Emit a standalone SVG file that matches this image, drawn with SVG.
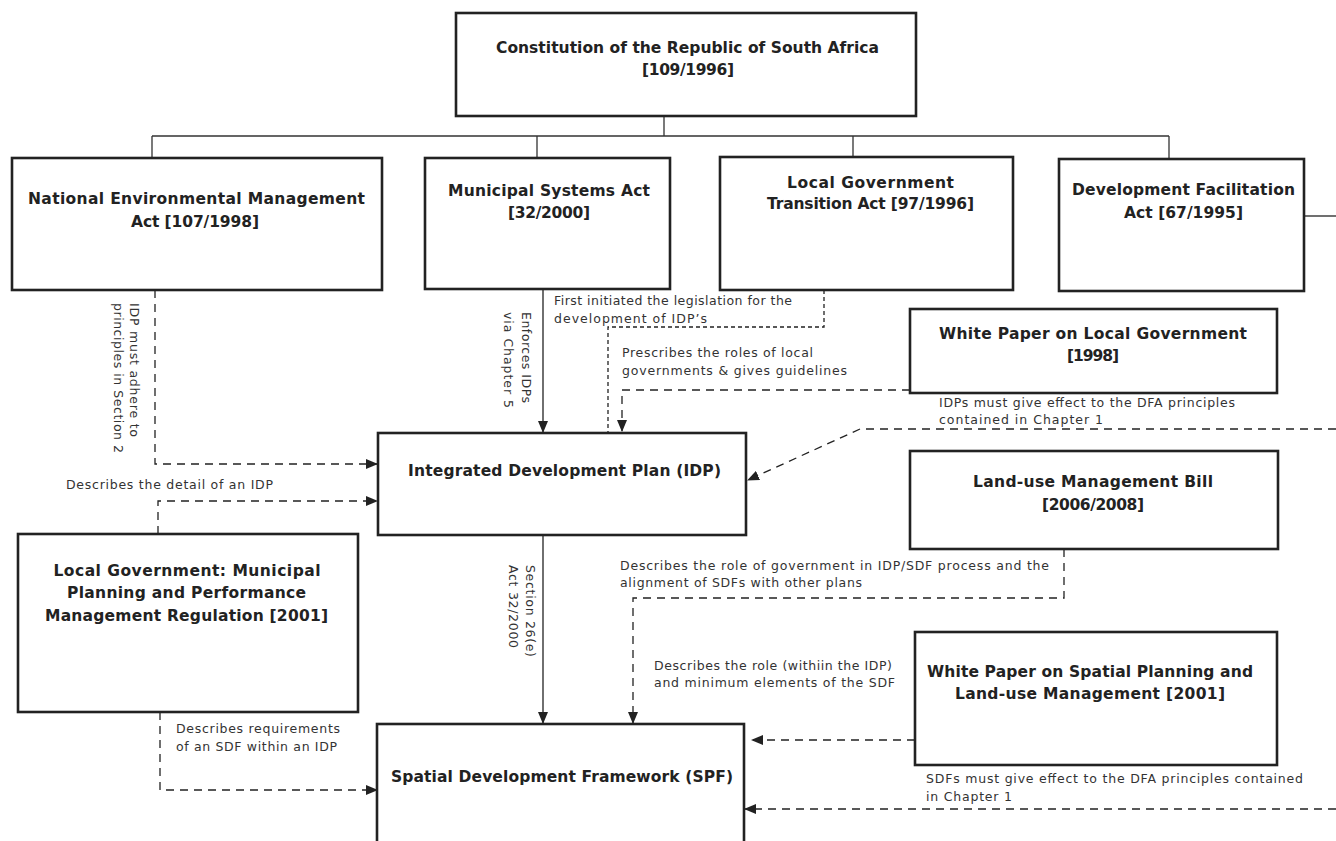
<svg xmlns="http://www.w3.org/2000/svg" width="1336" height="841" viewBox="0 0 1336 841">
<style>
.box{fill:#fff;stroke:#222;stroke-width:2.6}
.nt{font-family:"DejaVu Sans","Liberation Sans",sans-serif;font-weight:bold;font-size:15.5px;fill:#222;text-anchor:middle}
.lb{font-family:"DejaVu Sans","Liberation Sans",sans-serif;font-size:12.5px;fill:#333}
.tree{fill:none;stroke:#333;stroke-width:1.3}
.solid{fill:none;stroke:#222;stroke-width:1.3}
.dash{fill:none;stroke:#222;stroke-width:1.3;stroke-dasharray:8 6}
.dot{fill:none;stroke:#222;stroke-width:1.3;stroke-dasharray:4 3}
</style>
<defs>
<marker id="ah" markerUnits="userSpaceOnUse" markerWidth="12" markerHeight="10" refX="11" refY="5" orient="auto">
<path d="M0,0 L12,5 L0,10 z" fill="#222"/>
</marker>
</defs>
<g id="connectors">
<path class="tree" d="M664,116 V136 M152,136 H1169 M152,136 V157 M537,136 V157 M853,136 V157 M1169,136 V158"/>
<path class="solid" d="M1304,216 H1336"/>
<path class="dash" d="M155,290 V464 H377" marker-end="url(#ah)"/>
<path class="dash" d="M158,534 V501 H377" marker-end="url(#ah)"/>
<path class="dash" d="M160,712 V790 H377" marker-end="url(#ah)"/>
<path class="solid" d="M543,289 V432" marker-end="url(#ah)"/>
<path class="dot" d="M824,290 V327 H608 V432"/>
<path class="dash" d="M910,390 H622 V431" marker-end="url(#ah)"/>
<path class="dash" d="M1336,429 H860 L748,480" marker-end="url(#ah)"/>
<path class="solid" d="M543,535 V723" marker-end="url(#ah)"/>
<path class="dash" d="M1064,549 V598 H633 V723" marker-end="url(#ah)"/>
<path class="dash" d="M915,740 H752" marker-end="url(#ah)"/>
<path class="dash" d="M1336,809 H745" marker-end="url(#ah)"/>
</g>
<g id="labels">
<text class="lb" x="554" y="305" textLength="238">First initiated the legislation for the</text>
<text class="lb" x="554" y="323" textLength="153">development of IDP’s</text>
<text class="lb" x="622" y="357" textLength="191">Prescribes the roles of local</text>
<text class="lb" x="622" y="375" textLength="225">governments &amp; gives guidelines</text>
<text class="lb" x="939" y="407" textLength="296">IDPs must give effect to the DFA principles</text>
<text class="lb" x="939" y="424" textLength="164">contained in Chapter 1</text>
<text class="lb" x="66" y="489" textLength="207">Describes the detail of an IDP</text>
<text class="lb" x="620" y="570" textLength="429">Describes the role of government in IDP/SDF process and the</text>
<text class="lb" x="620" y="587" textLength="242">alignment of SDFs with other plans</text>
<text class="lb" x="654" y="670" textLength="238">Describes the role (withiin the IDP)</text>
<text class="lb" x="654" y="687" textLength="241">and minimum elements of the SDF</text>
<text class="lb" x="176" y="733" textLength="164">Describes requirements</text>
<text class="lb" x="176" y="751" textLength="161">of an SDF within an IDP</text>
<text class="lb" x="926" y="783" textLength="377">SDFs must give effect to the DFA principles contained</text>
<text class="lb" x="926" y="801" textLength="86">in Chapter 1</text>
<g transform="translate(129.5,303) rotate(90)">
<text class="lb" x="0" y="0" textLength="134">IDP must adhere to</text>
<text class="lb" x="0" y="16" textLength="150">principles in Section 2</text>
</g>
<g transform="translate(521.5,312) rotate(90)">
<text class="lb" x="0" y="0" textLength="91">Enforces IDPs</text>
<text class="lb" x="0" y="18" textLength="96">via Chapter 5</text>
</g>
<g transform="translate(525.5,565) rotate(90)">
<text class="lb" x="0" y="0" textLength="92">Section 26(e)</text>
<text class="lb" x="0" y="17" textLength="83">Act 32/2000</text>
</g>
</g>
<g id="constitution">
<rect class="box" x="456" y="13" width="460" height="103"/>
<text class="nt" x="687.5" y="53" textLength="383">Constitution of the Republic of South Africa</text>
<text class="nt" x="688" y="75" textLength="92">[109/1996]</text>
</g>
<g id="nema">
<rect class="box" x="12" y="158" width="370" height="132"/>
<text class="nt" x="196.5" y="204" textLength="337">National Environmental Management</text>
<text class="nt" x="195" y="227" textLength="128">Act [107/1998]</text>
</g>
<g id="msa">
<rect class="box" x="425" y="158" width="245" height="131"/>
<text class="nt" x="549" y="196" textLength="202">Municipal Systems Act</text>
<text class="nt" x="549" y="218" textLength="82">[32/2000]</text>
</g>
<g id="lgta">
<rect class="box" x="720" y="157" width="293" height="133"/>
<text class="nt" x="870.5" y="188" textLength="167">Local Government</text>
<text class="nt" x="870.5" y="209" textLength="207">Transition Act [97/1996]</text>
</g>
<g id="dfa">
<rect class="box" x="1059" y="159" width="245" height="132"/>
<text class="nt" x="1183.5" y="195" textLength="223">Development Facilitation</text>
<text class="nt" x="1183.5" y="218" textLength="119">Act [67/1995]</text>
</g>
<g id="wplg">
<rect class="box" x="910" y="309" width="367" height="84"/>
<text class="nt" x="1093" y="339" textLength="308">White Paper on Local Government</text>
<text class="nt" x="1093" y="361" textLength="52">[1998]</text>
</g>
<g id="idp">
<rect class="box" x="378" y="433" width="368" height="102"/>
<text class="nt" x="564.5" y="476" textLength="313">Integrated Development Plan (IDP)</text>
</g>
<g id="lumb">
<rect class="box" x="910" y="451" width="368" height="98"/>
<text class="nt" x="1093" y="487" textLength="240">Land-use Management Bill</text>
<text class="nt" x="1093" y="510" textLength="102">[2006/2008]</text>
</g>
<g id="lgmppm">
<rect class="box" x="18" y="534" width="340" height="178"/>
<text class="nt" x="187" y="576" textLength="267">Local Government: Municipal</text>
<text class="nt" x="186.5" y="598" textLength="239">Planning and Performance</text>
<text class="nt" x="186.5" y="621" textLength="283">Management Regulation [2001]</text>
</g>
<g id="wpsp">
<rect class="box" x="915" y="632" width="362" height="133"/>
<text class="nt" x="1090" y="677" textLength="326">White Paper on Spatial Planning and</text>
<text class="nt" x="1090" y="699" textLength="270">Land-use Management [2001]</text>
</g>
<g id="sdf">
<rect class="box" x="377" y="724" width="367" height="140"/>
<text class="nt" x="562" y="782" textLength="342">Spatial Development Framework (SPF)</text>
</g>
</svg>
